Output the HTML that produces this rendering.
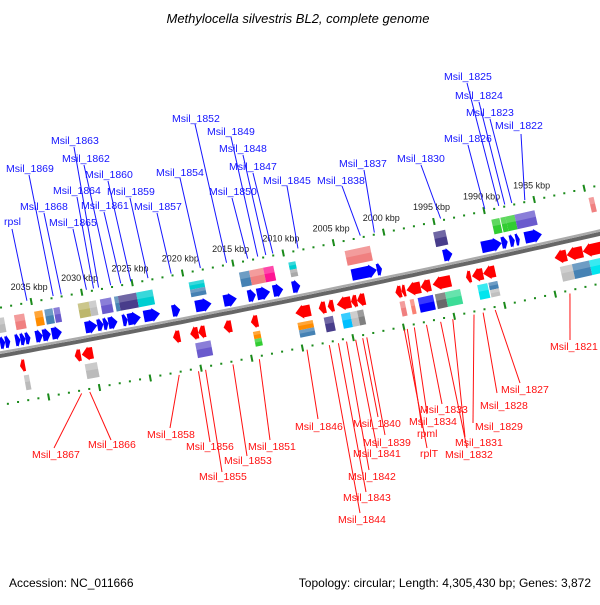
<!DOCTYPE html>
<html><head><meta charset="utf-8"><style>
html,body{margin:0;padding:0;background:#fff;}
svg text{font-family:"Liberation Sans",sans-serif;}
</style></head><body>
<svg id="map" width="600" height="600" viewBox="0 0 600 600" xmlns="http://www.w3.org/2000/svg">
<rect x="0" y="0" width="600" height="600" fill="#fff"/>
<text x="298" y="23" text-anchor="middle" font-size="13" font-style="italic" fill="#000">Methylocella silvestris BL2, complete genome</text>
<text x="9" y="587" font-size="12" fill="#000">Accession: NC_011666</text>
<text x="591" y="587" text-anchor="end" font-size="12" fill="#000">Topology: circular; Length: 4,305,430 bp; Genes: 3,872</text>
<g id="band"></g><g id="ticks"></g><g id="genes"></g><g id="labels"></g>
</svg>
<script>
// forward-strand genes: [left kbp, right kbp]
const fwdStart = [2038.7,2038.2,2037.2,2036.7,2036.2,2035.2,2034.5,2033.6,2030.3,2029.1,2028.5,2028.0,2026.6,2026.1,2024.5,2021.7,2019.4,2016.6,2014.2,2013.3,2011.7,2009.8,2003.9,2001.4,1994.8,1991.0,1989.0,1988.2,1987.6,1986.7];
const fwdEnd   = [2038.2,2037.7,2036.7,2036.2,2035.7,2034.5,2033.7,2032.6,2029.1,2028.5,2028.0,2027.1,2026.1,2024.8,2022.9,2020.9,2017.8,2015.3,2013.4,2012.0,2010.7,2009.0,2001.4,2000.9,1993.9,1989.0,1988.4,1987.7,1987.2,1985.0];
// forward COG boxes
const fBoxStart = [2038.7,2036.9,2034.9,2033.9,2033.0,2030.6,2029.5,2028.4,2027.0,2026.6,2024.8,2019.6,2014.6,2013.6,2012.2,2009.7,2004.1,1995.3,1989.5,1988.6,1988.1,1987.2,1979.8];
const fBoxEnd   = [2037.9,2035.9,2034.1,2033.1,2032.4,2029.5,2028.8,2027.3,2026.6,2024.8,2023.2,2018.1,2013.6,2012.2,2011.2,2009.0,2001.6,1994.1,1988.7,1988.1,1987.2,1985.2,1979.3];
const fBoxColor = ["#bbbbbb","#f08080","#ff8c00","#4682b4","#6a5acd","#bdb76b","#c0c0c0","#6a5acd","#4682b4","#483d8b","#00ced1","#00ced1|#4682b4","#4682b4","#f08080","#ff1493","#00ced1|#a9a9a9","#f08080","#483d8b","#32cd32","#32cd32","#32cd32","#6a5acd","#f08080"];
// reverse-strand genes
const revStart = [2037.2,2031.8,2031.1,2022.1,2020.4,2019.6,2017.1,2014.4,2010.0,2007.7,2006.8,2005.9,2004.5,2003.9,2000.1,1999.5,1999.0,1997.6,1996.4,1993.1,1992.5,1991.4,1984.3,1983.1,1981.5];
const revEnd   = [2036.7,2031.2,2030.0,2021.4,2019.6,2018.9,2016.3,2013.7,2008.5,2007.0,2006.2,2004.5,2003.9,2003.1,1999.5,1999.1,1997.6,1996.6,1994.6,1992.6,1991.4,1990.2,1983.1,1981.5,1979.3];
const rBoxStart = [2037.0,2031.0,2020.1,2014.4,2010.0,2007.4,2005.7,2004.8,2004.1,1999.9,1998.9,1998.1,1996.4,1995.4,1992.2,1991.1,1984.0,1982.8,1981.1];
const rBoxEnd   = [2036.5,2029.8,2018.6,2013.7,2008.5,2006.5,2004.8,2004.1,2003.5,1999.4,1998.5,1996.6,1995.4,1993.9,1991.2,1990.2,1982.8,1981.1,1979.3];
const rBoxColor = ["#bbbbbb","#bbbbbb","#6a5acd","#ff8c00|#32cd32","#ff8c00|#4682b4","#483d8b","#00bfff","#c0c0c0","#808080","#f08080","#fa8072","#0000ff","#696969","#3ddc97","#00e5ee","#4682b4|#c0c0c0","#c0c0c0","#4682b4","#00e5ee"];
// tick labels
const tickLabels = [2035,2030,2025,2020,2015,2010,2005,2000,1995,1990,1985];
// gene labels: name, target kbp
const fwdNames = ["rpsl","Msil_1869","Msil_1868","Msil_1865","Msil_1864","Msil_1863","Msil_1862","Msil_1861","Msil_1860","Msil_1859","Msil_1857","Msil_1854","Msil_1852","Msil_1850","Msil_1849","Msil_1848","Msil_1847","Msil_1845","Msil_1838","Msil_1837","Msil_1830","Msil_1826","Msil_1825","Msil_1824","Msil_1823","Msil_1822"];
const fwdTargets = [2035.4,2032.8,2032.0,2029.5,2028.8,2028.3,2027.1,2026.1,2025.1,2023.4,2021.1,2018.2,2015.6,2013.5,2012.5,2011.7,2011.0,2008.5,2002.3,2000.9,1994.3,1989.9,1988.5,1987.9,1987.2,1985.9];
const revNames = ["Msil_1867","Msil_1866","Msil_1858","Msil_1856","Msil_1855","Msil_1853","Msil_1851","Msil_1846","Msil_1844","Msil_1843","Msil_1842","Msil_1841","Msil_1840","Msil_1839","rplT","rpml","Msil_1834","Msil_1833","Msil_1832","Msil_1831","Msil_1829","Msil_1828","Msil_1827","Msil_1821"];
const revTargets = [2031.8,2031.0,2022.2,2020.3,2019.6,2016.9,2014.3,2009.6,2007.4,2006.5,2005.7,2004.8,2004.1,2003.7,2000.0,1999.7,1999.0,1997.8,1996.4,1995.2,1993.1,1992.2,1991.0,1983.6];
// label layout (text x, baseline y, leader start x, y)
const fwdLayout = [[4,225,12,229],[6,172,29,175],[20,210,44,213],[49,226,73,229],[53,194,77,197],[51,144,74,147],[62,162,84,165],[81,209,104,212],[85,178,108,181],[107,195,130,198],[134,210,157,213],[156,176,180,178],[172,122,195,124],[209,195,232,198],[207,135,231,137],[219,152,243,155],[229,170,253,173],[263,184,287,186],[317,184,342,186],[339,167,364,170],[397,162,421,165],[444,142,468,145],[444,80,467,83],[455,99,479,102],[466,116,490,119],[495,129,521,134]];
const revLayout = [[32,458,54,448],[88,448,111,440],[147,438,170,428],[186,450,210,442],[199,480,222,472],[224,464,247,456],[248,450,270,440],[295,430,318,419],[338,523,360,513],[343,501,366,492],[348,480,369,470],[353,457,377,448],[353,427,378,417],[363,446,385,435],[420,457,427,448],[417,437,422,428],[409,425,427,414],[420,413,442,404],[445,458,467,448],[455,446,465,437],[475,430,473,423],[480,409,497,393],[501,393,520,383],[550,350,570,340]];

const NS="http://www.w3.org/2000/svg";
const K0=2009.25, S=10.3, TH0=11.5*Math.PI/180, R=13200, X0=300, Y0=297;
function P(k,off){
  const t=(K0-k)*S, th=TH0+t/R;
  const x=X0+R*(Math.sin(th)-Math.sin(TH0)), y=Y0+R*(Math.cos(th)-Math.cos(TH0));
  return [x-off*Math.sin(th), y-off*Math.cos(th)];
}
function pts(a){return a.map(p=>p[0].toFixed(1)+","+p[1].toFixed(1)).join(" ");}
function mk(tag,attrs,parent){const e=document.createElementNS(NS,tag);for(const k in attrs)e.setAttribute(k,attrs[k]);parent.appendChild(e);return e;}
const gBand=document.getElementById('band'),gT=document.getElementById('ticks'),gG=document.getElementById('genes'),gL=document.getElementById('labels');

function line(off){const a=[];for(let k=2042;k>=1975;k-=1)a.push(P(k,off));return a;}
let e=mk('polyline',{points:pts(line(-1.5)),fill:'none',stroke:'#666',"stroke-width":4},gBand);


e=mk('polyline',{points:pts(line(1.8)),fill:'none',stroke:'#aaa',"stroke-width":2.5},gBand);



[[46,43,50],[-50,-47,-54]].forEach(([o,a,b])=>{
  for(let k=2041;k>=1977;k--){
    if(k%5===0){
      const p1=P(k,a),p2=P(k,b);
      e=mk('line',{x1:p1[0],y1:p1[1],x2:p2[0],y2:p2[1],stroke:'#1a8a1a',"stroke-width":2},gT);
      
      
    } else {
      const p=P(k,o);
      e=mk('rect',{x:p[0]-1,y:p[1]-1,width:2,height:2,fill:'#1a8a1a'},gT);
      
      
    }
  }
});
tickLabels.forEach(k=>{
  const p=P(k,58);
  e=mk('text',{x:p[0],y:p[1],"text-anchor":"middle","font-size":"9",fill:'#222'},gT);
  e.textContent=k+" kbp";
  
  
});

function box(a,b,lo,hi,colors,name){
  const cs=colors.split('|'), n=cs.length, h=(hi-lo)/n;
  cs.forEach((c,i)=>{
    const top=hi-i*h, bot=hi-(i+1)*h;
    e=mk('polygon',{points:pts([P(a,bot),P(b,bot),P(b,top),P(a,top)]),fill:c},gG);
    
    
    e=mk('polygon',{points:pts([P(a,top-h*0.45),P(b,top-h*0.45),P(b,top),P(a,top)]),fill:'#fff',opacity:0.22},gG);
    
    
  });
}
fBoxStart.forEach((a,i)=>box(a,fBoxEnd[i],21,36,fBoxColor[i],'forward-cog-box'));
rBoxStart.forEach((a,i)=>box(a,rBoxEnd[i],-40,-25,rBoxColor[i],'reverse-cog-box'));

function arrow(a,b,lo,hi,dir,color,name){
  const len=a-b, hd=Math.min(0.75,len*0.6), mid=(lo+hi)/2, in1=lo+1.2, in2=hi-1.2;
  let p;
  if(dir>0){ const hb=b+hd; p=[P(a,in1),P(hb,in1),P(hb,lo),P(b,mid),P(hb,hi),P(hb,in2),P(a,in2)]; }
  else { const hb=a-hd; p=[P(b,in1),P(hb,in1),P(hb,lo),P(a,mid),P(hb,hi),P(hb,in2),P(b,in2)]; }
  e=mk('polygon',{points:pts(p),fill:color},gG);
  
  
}
fwdStart.forEach((a,i)=>arrow(a,fwdEnd[i],4,18,1,'#0000ff','forward-gene'));
revStart.forEach((a,i)=>arrow(a,revEnd[i],-22,-8,-1,'#ff0000','reverse-gene'));

function labels(names,targets,layout,off,color,name){
  names.forEach((n,i)=>{
    const [tx,ty,sx,sy]=layout[i], p=P(targets[i],off);
    e=mk('line',{x1:sx,y1:sy,x2:p[0],y2:p[1],stroke:color,"stroke-width":1},gL);
    
    
    e=mk('text',{x:tx,y:ty,"font-size":"10.5",fill:color},gL);
    e.textContent=n;
    
    
  });
}
labels(fwdNames,fwdTargets,fwdLayout,48,'#1515ff','forward-gene-label');
labels(revNames,revTargets,revLayout,-53,'#ff1010','reverse-gene-label');
</script>
</body></html>
